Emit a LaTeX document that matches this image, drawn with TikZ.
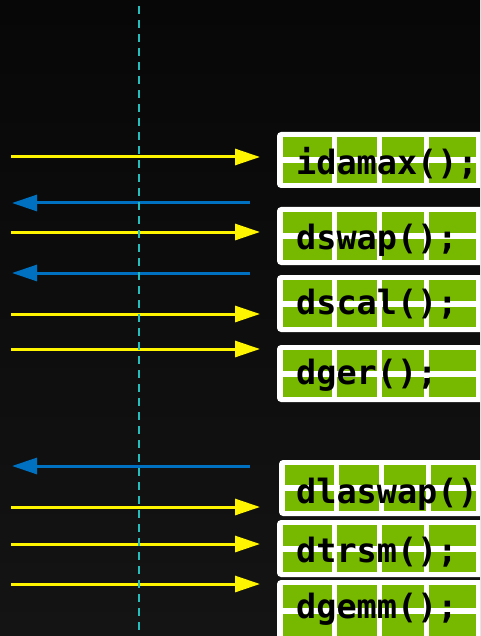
\documentclass[tikz,border=0pt]{standalone}
\usepackage{fontspec}
\setmonofont{DejaVu Sans Mono}
\usetikzlibrary{arrows.meta}
\definecolor{bgtop}{HTML}{070707}
\definecolor{bgbottom}{HTML}{141414}
\definecolor{cellgreen}{HTML}{76B900}
\definecolor{callyellow}{HTML}{FFF500}
\definecolor{callblue}{HTML}{0070C0}
\definecolor{guide}{HTML}{26BDBD}
\tikzset{
  fntext/.style={font=\ttfamily\bfseries\fontsize{33.5}{40}\selectfont, text=black, inner sep=0pt, anchor=base west},
  frame/.style={fill=white, rounded corners=4pt},
  cell/.style={fill=cellgreen},
  yarr/.style={draw=callyellow, line width=3pt, -{Triangle[length=25pt,width=16pt]}},
  barr/.style={draw=callblue, line width=3pt, -{Triangle[length=25pt,width=16pt]}},
  guideline/.style={draw=guide, line width=2.2pt, dash pattern=on 8pt off 6pt, dash phase=8pt}
}
% one call box: name, left, top, bottom, baseline, text
\newcommand\callbox[6]{%
  \pgfmathsetmacro\cbmid{(#3+#4)/2}%
  \fill[frame] (#2,#3) rectangle (492,#4);
  \foreach \ca/\cb in {6/55,60/100,105/147,152/199} {
    \fill[cell] (#2+\ca,#3+5) rectangle ({min(#2+\cb,476)},\cbmid-3);
    \fill[cell] (#2+\ca,\cbmid+3) rectangle ({min(#2+\cb,476)},#4-5);
  }
  \node[fntext] (#1) at (296,#5) {#6};
}
\begin{document}
\begin{tikzpicture}[x=1pt,y=-1pt]
\useasboundingbox (0,0) rectangle (480,636);
\clip (0,0) rectangle (480,636);
\shade[top color=bgtop, bottom color=bgbottom] (0,0) rectangle (480,636);

% BLAS / LAPACK calls
\callbox{idamax}{277}{132}{188}{175}{idamax();}
\callbox{dswap}{277}{207}{265}{249}{dswap();}
\callbox{dscal}{277}{275}{332}{314}{dscal();}
\callbox{dger}{277}{345}{402}{384}{dger();}
\callbox{dlaswap}{279}{460}{516}{503}{dlaswap();}
\callbox{dtrsm}{277}{520}{577}{562}{dtrsm();}
\callbox{dgemm}{277}{580}{641}{618}{dgemm();}

% host to device launches
\foreach \n/\y in {a/157,c/232,e/314,f/349,h/507,i/544,j/584} {
  \coordinate (s\n) at (11,\y);
  \coordinate (t\n) at (260,\y);
  \draw[yarr] (s\n) -- (t\n);
}
% device to host returns
\foreach \n/\y in {b/203,d/273,g/466} {
  \coordinate (s\n) at (250,\y);
  \coordinate (t\n) at (12,\y);
  \draw[barr] (s\n) -- (t\n);
}

% timeline guide
\coordinate (gtop) at (139,0);
\coordinate (gbot) at (139,636);
\draw[guideline] (gtop) -- (gbot);
\end{tikzpicture}
\end{document}
